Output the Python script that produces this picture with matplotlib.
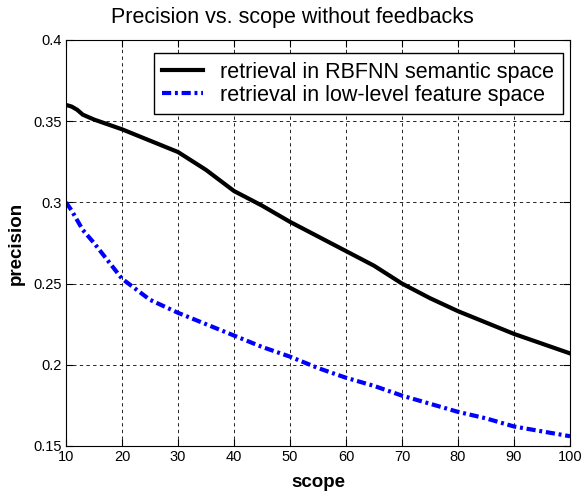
import matplotlib.pyplot as plt

plt.rcParams['font.family'] = ['Liberation Sans', 'DejaVu Sans']

# values
scope = [10, 11, 12, 13, 15, 20, 25, 30, 35, 40, 45, 50, 55, 60, 65, 70, 75, 80, 85, 90, 95, 100]
rbfnn = [0.360, 0.359, 0.357, 0.354, 0.351, 0.345, 0.338, 0.331, 0.320, 0.307, 0.298, 0.288,
         0.279, 0.270, 0.261, 0.250, 0.241, 0.233, 0.226, 0.219, 0.213, 0.207]
lowlevel = [0.300, 0.295, 0.289, 0.283, 0.275, 0.253, 0.240, 0.232, 0.225, 0.218, 0.211, 0.205,
            0.198, 0.192, 0.187, 0.181, 0.176, 0.171, 0.167, 0.162, 0.159, 0.156]

xticks = [10, 20, 30, 40, 50, 60, 70, 80, 90, 100]
yticks = [0.15, 0.2, 0.25, 0.3, 0.35, 0.4]
ylabels = ['0.15', '0.2', '0.25', '0.3', '0.35', '0.4']

fig = plt.figure(figsize=(5.81, 4.94), dpi=100)
ax = fig.add_axes([0.1136, 0.0972, 0.8675, 0.8219])

ax.plot(scope, rbfnn, color='black', lw=3, label='retrieval in RBFNN semantic space')
ax.plot(scope, lowlevel, color='blue', lw=3, linestyle=(0, (2.2, 0.9, 0.7, 0.9)),
        label='retrieval in low-level feature space')

ax.set_xlim(10, 100)
ax.set_ylim(0.15, 0.4)
ax.set_xticks(xticks)
ax.set_yticks(yticks)
ax.set_yticklabels(ylabels)
ax.tick_params(direction='in', top=True, right=True, labelsize=10.5, length=5, pad=3)
ax.grid(True, color='black', linestyle=(0, (4, 4)), linewidth=0.6)

ax.set_title('Precision vs. scope without feedbacks', fontsize=15.5, pad=12, x=0.45)
ax.set_xlabel('scope', fontsize=13.5, fontweight='bold', labelpad=7)
ax.set_ylabel('precision', fontsize=13.5, fontweight='bold', labelpad=6)

leg = ax.legend(loc='upper right', bbox_to_anchor=(0.986, 0.968), borderaxespad=0,
                fontsize=15.5, fancybox=False, framealpha=1, edgecolor='black',
                handlelength=1.9, handletextpad=0.8, borderpad=0.4, labelspacing=0.1)
leg.get_frame().set_linewidth(1.0)

fig.savefig('out.png', dpi=100)
